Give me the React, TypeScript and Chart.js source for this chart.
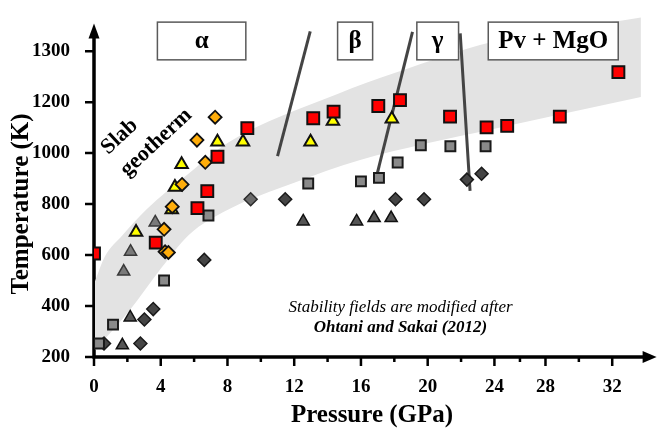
import React, { useEffect, useRef } from 'react';
import { Chart, registerables } from 'chart.js';

Chart.register(...registerables);

// ---- axis ticks ----
const xTickValues = [0, 4, 8, 12, 16, 20, 24, 28, 32];
const xTickLabels = ['0', '4', '8', '12', '16', '20', '24', '28', '32'];
const xMinorTicks = [2, 6, 10, 14, 18, 22, 26, 30];
const yTickValues = [200, 400, 600, 800, 1000, 1200, 1400];
const yTickLabels = ['200', '400', '600', '800', '1000', '1200', '1300'];

// ---- data series: [pressure GPa, temperature K] ----
const redSquares = [
  [0, 606], [3.7, 649], [6.2, 784], [6.79, 851], [7.4, 986], [9.19, 1098],
  [13.14, 1137], [14.36, 1163], [17.04, 1185], [18.34, 1208], [21.34, 1143],
  [23.53, 1101], [25.0, 1107], [28.86, 1143], [32.37, 1318],
];
const yellowTriangles = [
  [2.52, 690], [4.66, 778], [4.85, 866], [5.25, 956], [7.4, 1044],
  [8.93, 1044], [12.98, 1044], [14.32, 1125], [17.85, 1134],
];
const orangeDiamonds = [
  [4.2, 701], [4.26, 613], [4.46, 610], [4.69, 790], [5.28, 877],
  [6.17, 1051], [6.67, 964], [7.26, 1141],
];
const graySquares = [
  [0.3, 253], [1.14, 327], [4.2, 500], [6.86, 755], [12.84, 881], [16.0, 889],
  [17.08, 903], [18.2, 963], [19.59, 1031], [21.36, 1027], [23.47, 1027],
];
const darkDiamonds = [
  [0.6, 253], [2.78, 253], [3.02, 347], [3.55, 388], [6.61, 581],
  [11.46, 819], [18.07, 819], [19.78, 819], [22.35, 896], [23.23, 919],
];
const midDiamonds = [[9.39, 819]];
const darkTriangles = [
  [1.7, 246], [2.17, 355], [12.54, 732], [15.74, 732], [16.79, 745], [17.81, 745],
];
const grayTriangles = [[1.78, 535], [2.19, 613], [3.67, 728]];

// slab geotherm band
const bandUpper = [
  [0.06, 497], [0.65, 594], [1.72, 679], [3.14, 779], [5.68, 920], [8.05, 1042],
  [14.56, 1231], [18.1, 1316], [23.85, 1436], [33.72, 1532],
];
const bandLower = [
  [0.06, 227], [2.13, 382], [4.02, 548], [5.68, 679], [8.05, 779], [12.0, 884],
  [15.9, 972], [19.9, 1038], [24.0, 1096], [33.72, 1220],
];

// phase boundaries
const boundaryAB = [[11.0, 988], [12.96, 1478]];
const boundaryBG = [[16.96, 916], [19.09, 1476]];
const boundaryGP = [[21.95, 1470], [22.54, 852]];

// phase-field boxes [label, P from, P to, T bottom, T top]
const phaseBoxes: [string, number, number, number, number][] = [
  ['α', 3.8, 9.1, 1366, 1514],
  ['β', 14.6, 16.7, 1366, 1514],
  ['γ', 19.35, 21.85, 1366, 1514],
  ['Pv + MgO', 23.63, 32.36, 1366, 1514],
];

// The source's pressure axis is compressed between 24 and 28 GPa.
function warpX(p: number): number {
  if (p <= 24) return p;
  if (p <= 28) return 24 + (p - 24) * 0.765;
  return 27.06 + (p - 28);
}

const toXY = (arr: number[][]) => arr.map(([p, t]) => ({ x: warpX(p), y: t }));

const SERIF = '"Liberation Serif", "Times New Roman", serif';

const decor = {
  id: 'decor',
  beforeDatasetsDraw(chart: any) {
    const { ctx, chartArea: ca, scales } = chart;
    const xs = scales.x, ys = scales.y;
    const x0 = xs.getPixelForValue(0);
    const y0 = ys.getPixelForValue(200);
    ctx.save();
    ctx.strokeStyle = '#000';
    ctx.fillStyle = '#000';
    // axes
    ctx.lineWidth = 3.5;
    ctx.beginPath();
    ctx.moveTo(x0 - 1.5, y0);
    ctx.lineTo(ca.right - 10, y0);
    ctx.moveTo(x0, y0 + 1.5);
    ctx.lineTo(x0, ca.top + 25);
    ctx.stroke();
    // arrow heads
    ctx.beginPath();
    ctx.moveTo(ca.right + 2, y0);
    ctx.lineTo(ca.right - 12, y0 - 6);
    ctx.lineTo(ca.right - 12, y0 + 6);
    ctx.closePath();
    ctx.fill();
    ctx.beginPath();
    ctx.moveTo(x0, ca.top + 13);
    ctx.lineTo(x0 - 5.5, ca.top + 28);
    ctx.lineTo(x0 + 5.5, ca.top + 28);
    ctx.closePath();
    ctx.fill();
    // ticks
    ctx.lineWidth = 2.5;
    ctx.beginPath();
    xTickValues.forEach((v) => {
      const px = xs.getPixelForValue(warpX(v));
      ctx.moveTo(px, y0);
      ctx.lineTo(px, y0 + 9);
    });
    xMinorTicks.forEach((v) => {
      const px = xs.getPixelForValue(warpX(v));
      ctx.moveTo(px, y0);
      ctx.lineTo(px, y0 + 5);
    });
    yTickValues.forEach((v) => {
      const py = ys.getPixelForValue(v);
      ctx.moveTo(x0 - 9, py);
      ctx.lineTo(x0, py);
    });
    ctx.stroke();
    ctx.restore();
  },
  afterDatasetsDraw(chart: any) {
    const { ctx, scales } = chart;
    const xs = scales.x, ys = scales.y;
    const X = (p: number) => xs.getPixelForValue(warpX(p));
    const Y = (t: number) => ys.getPixelForValue(t);
    ctx.save();
    // phase boxes
    phaseBoxes.forEach(([label, p1, p2, t1, t2]) => {
      const l = X(p1), r = X(p2), tp = Y(t2), bt = Y(t1);
      ctx.fillStyle = '#fff';
      ctx.fillRect(l, tp, r - l, bt - tp);
      ctx.strokeStyle = '#5a5a5a';
      ctx.lineWidth = 1.5;
      ctx.strokeRect(l, tp, r - l, bt - tp);
      ctx.fillStyle = '#000';
      ctx.font = `bold 25px ${SERIF}`;
      ctx.textAlign = 'center';
      ctx.textBaseline = 'middle';
      ctx.fillText(label, (l + r) / 2, (tp + bt) / 2 + 1);
    });
    // slab geotherm label
    ctx.fillStyle = '#000';
    ctx.font = `bold 22px ${SERIF}`;
    ctx.textAlign = 'center';
    ctx.textBaseline = 'middle';
    [['Slab', 1.54, 1065], ['geotherm', 3.73, 1042]].forEach(([s, p, t]: any) => {
      ctx.save();
      ctx.translate(X(p), Y(t));
      ctx.rotate((-43 * Math.PI) / 180);
      ctx.fillText(s, 0, 0);
      ctx.restore();
    });
    // source note
    ctx.font = `italic 17px ${SERIF}`;
    ctx.fillText('Stability fields are modified after', X(18.37), Y(394));
    ctx.font = `italic bold 17px ${SERIF}`;
    ctx.fillText('Ohtani and Sakai (2012)', X(18.37), Y(316));
    // axis titles
    ctx.font = `bold 25px ${SERIF}`;
    ctx.fillText('Pressure (GPa)', 372, 416);
    ctx.save();
    ctx.translate(22, 204);
    ctx.rotate(-Math.PI / 2);
    ctx.fillText('Temperature (K)', 0, 0);
    ctx.restore();
    ctx.restore();
  },
};

function pointSet(data: number[][], style: string, radius: number, fill: string, border: string, order: number, bw = 2) {
  return {
    data: toXY(data),
    showLine: false,
    pointStyle: style,
    pointRadius: radius,
    pointHoverRadius: radius,
    backgroundColor: fill,
    borderColor: border,
    pointBackgroundColor: fill,
    pointBorderColor: border,
    pointBorderWidth: bw,
    order,
  };
}

function lineSet(data: number[][], order: number) {
  return {
    data: toXY(data),
    showLine: true,
    borderColor: '#444',
    borderWidth: 3,
    pointRadius: 0,
    fill: false,
    order,
  };
}

const noPad = (s: any) => {
  s.paddingTop = 0;
  s.paddingBottom = 0;
  s.paddingLeft = 0;
  s.paddingRight = 0;
};

export default function App() {
  const ref = useRef<HTMLCanvasElement>(null);
  useEffect(() => {
    if (!ref.current) return;
    const chart = new Chart(ref.current, {
      type: 'line',
      data: {
        datasets: [
          {
            data: toXY(bandUpper),
            showLine: true,
            borderWidth: 0,
            borderColor: 'rgba(0,0,0,0)',
            backgroundColor: '#e3e3e3',
            pointRadius: 0,
            cubicInterpolationMode: 'monotone',
            fill: '+1',
            order: 100,
          },
          {
            data: toXY(bandLower),
            showLine: true,
            borderWidth: 0,
            borderColor: 'rgba(0,0,0,0)',
            pointRadius: 0,
            cubicInterpolationMode: 'monotone',
            fill: false,
            order: 99,
          },
          lineSet(boundaryAB, 50),
          lineSet(boundaryBG, 50),
          lineSet(boundaryGP, 50),
          pointSet(darkDiamonds, 'rectRot', 6.5, '#454545', '#1a1a1a', 9, 1.5),
          pointSet(midDiamonds, 'rectRot', 6.5, '#6a6a6a', '#2a2a2a', 9, 1.5),
          pointSet(darkTriangles, 'triangle', 7, '#555555', '#111111', 8, 1.5),
          pointSet(grayTriangles, 'triangle', 7, '#7a7a7a', '#3a3a3a', 7, 1.5),
          pointSet(graySquares, 'rect', 7, '#8a8a8a', '#1a1a1a', 6, 2),
          pointSet(yellowTriangles, 'triangle', 7.2, '#ffff00', '#111111', 5, 2),
          pointSet(orangeDiamonds, 'rectRot', 6.5, '#ffad0a', '#111111', 4, 1.8),
          pointSet(redSquares, 'rect', 8.4, '#ff0000', '#111111', 3, 2),
        ] as any,
      },
      options: {
        animation: false,
        responsive: true,
        maintainAspectRatio: false,
        layout: { padding: { top: 5, right: 3, left: 0, bottom: 0 } },
        plugins: { legend: { display: false }, tooltip: { enabled: false } },
        scales: {
          x: {
            type: 'linear',
            min: 0,
            max: 33.6,
            grid: { display: false },
            border: { display: false },
            afterBuildTicks: (s: any) => {
              s.ticks = xTickValues.map((v) => ({ value: warpX(v) }));
            },
            afterFit: (s: any) => {
              s.height = 75;
              noPad(s);
            },
            ticks: {
              autoSkip: false,
              maxRotation: 0,
              padding: 11,
              color: '#000',
              font: { family: SERIF, size: 19, weight: 'bold' },
              callback: (_v: any, i: number) => xTickLabels[i],
            },
          },
          y: {
            type: 'linear',
            min: 200,
            max: 1560,
            grid: { display: false },
            border: { display: false },
            afterBuildTicks: (s: any) => {
              s.ticks = yTickValues.map((v) => ({ value: v }));
            },
            afterFit: (s: any) => {
              s.width = 94;
              noPad(s);
            },
            ticks: {
              autoSkip: false,
              padding: 16,
              color: '#000',
              font: { family: SERIF, size: 19, weight: 'bold' },
              callback: (_v: any, i: number) => yTickLabels[i],
            },
          },
        },
      } as any,
      plugins: [decor],
    });
    return () => chart.destroy();
  }, []);
  return (
    <div style={{ position: 'fixed', left: 0, top: 0, width: 665, height: 432, background: '#fff' }}>
      <canvas ref={ref} />
    </div>
  );
}
